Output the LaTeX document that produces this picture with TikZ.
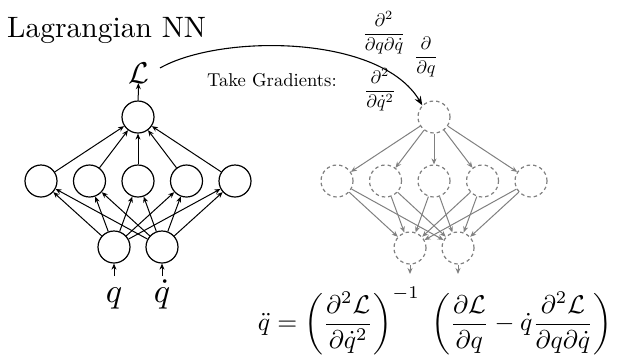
\documentclass[tikz,border=0pt]{standalone}
\usepackage{amsmath}
\usepackage{graphicx}
\usetikzlibrary{arrows.meta}
\begin{document}
\begin{tikzpicture}[x=1pt,y=-1pt,
  neuron/.style={circle, draw, line width=1.2pt, minimum size=32pt, inner sep=0pt},
  ghost/.style={circle, draw=gray, line width=1.2pt, minimum size=32pt, inner sep=0pt, dash pattern=on 3.5pt off 3pt},
  fwd/.style={-{Stealth[length=6pt,width=5pt]}, line width=1pt},
  bwd/.style={-{Stealth[length=6pt,width=5pt]}, line width=1pt, draw=gray},
  bigarrow/.style={-{Stealth[length=9pt,width=7pt]}, line width=1.1pt},
  lbl/.style={inner sep=0pt}
]
\useasboundingbox (0,0) rectangle (620,354);

% title
\node[lbl, anchor=base west] (title) at (7,37) {\scalebox{2.95}{Lagrangian NN}};

% left network
\node[neuron] (t) at (138,117) {};
\foreach \i/\x in {1/41,2/89.5,3/138,4/186.5,5/235}
  \node[neuron] (m\i) at (\x,181) {};
\node[neuron] (b1) at (114,247) {};
\node[neuron] (b2) at (162,247) {};
\foreach \i in {1,...,5} {
  \draw[fwd] (m\i) -- (t);
  \draw[fwd] (b1) -- (m\i);
  \draw[fwd] (b2) -- (m\i);
}
\node[lbl, anchor=base] (L) at (138.5,83) {\scalebox{3.0}{$\mathcal{L}$}};
\draw[fwd] (t) -- (L);
\coordinate (qin) at (114,276);
\coordinate (qdin) at (162,276);
\draw[fwd] (qin) -- (b1);
\draw[fwd] (qdin) -- (b2);
\node[lbl, anchor=base] (q) at (114,302) {\scalebox{3.4}{$q$}};
\node[lbl, anchor=base] (qd) at (162,302) {\scalebox{3.4}{$\dot q$}};

% right network
\node[ghost] (T) at (434,117) {};
\foreach \i/\x in {1/337,2/385.5,3/434,4/482.5,5/531}
  \node[ghost] (M\i) at (\x,181) {};
\node[ghost] (B1) at (410,248) {};
\node[ghost] (B2) at (458,248) {};
\foreach \i in {1,...,5} {
  \draw[bwd] (T) -- (M\i);
  \draw[bwd] (M\i) -- (B1);
  \draw[bwd] (M\i) -- (B2);
}
\coordinate (o1) at (410,274);
\coordinate (o2) at (458,274);
\draw[bwd] (B1) -- (o1);
\draw[bwd] (B2) -- (o2);

% gradients
\coordinate (cs) at (160,68);
\draw[bigarrow] (cs) .. controls (220,34) and (380,34) .. (T.north west);
\node[lbl, anchor=base west] (tg) at (207,86.5) {\scalebox{1.86}{Take Gradients:}};
\node[lbl] (f1) at (384,33) {\scalebox{1.8}{$\dfrac{\partial^2}{\partial q\partial \dot q}$}};
\node[lbl] (f2) at (426,57) {\scalebox{1.8}{$\dfrac{\partial}{\partial q}$}};
\node[lbl] (f3) at (380,90) {\scalebox{1.8}{$\dfrac{\partial^2}{\partial \dot q^2}$}};

% equation
\node[lbl] (eq) at (435,321) {\scalebox{2.56}{$\displaystyle \ddot q = \left(\frac{\partial^2\mathcal{L}}{\partial \dot q^2}\right)^{-1}\;\left(\frac{\partial\mathcal{L}}{\partial q} - \dot q\frac{\partial^2\mathcal{L}}{\partial q\partial \dot q}\right)$}};
\end{tikzpicture}
\end{document}
